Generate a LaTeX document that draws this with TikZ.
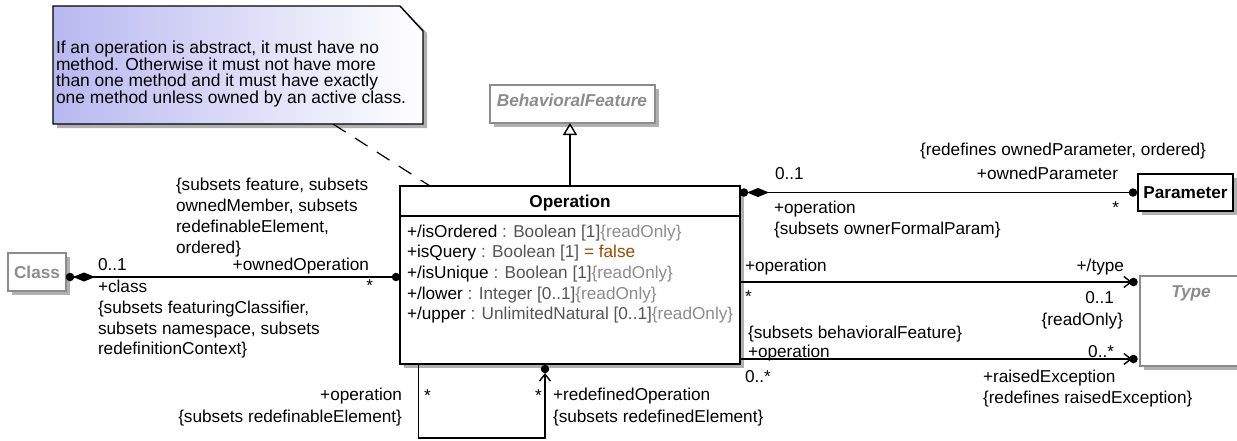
\documentclass[tikz,border=0pt]{standalone}
\usepackage{fontspec}
\setmainfont{Liberation Sans}
\usetikzlibrary{arrows.meta,calc,shadows}
\definecolor{shadowgray}{RGB}{176,176,176}
\definecolor{absgray}{RGB}{140,140,140}
\definecolor{typegray}{RGB}{85,85,85}
\definecolor{rogray}{RGB}{140,140,140}
\definecolor{valbrown}{RGB}{153,76,0}
\definecolor{noteblue}{RGB}{184,184,240}
\begin{document}
\begin{tikzpicture}[x=1pt,y=-1pt,
  every node/.style={inner sep=0pt, outer sep=0pt},
  txt/.style={font=\fontsize{17.2}{20}\selectfont},
  notetxt/.style={font=\fontsize{17.4}{17}\selectfont, anchor=base west},
  lbl/.style={txt, anchor=base west},
  lblr/.style={txt, anchor=base east},
  boldtxt/.style={font=\fontsize{17.2}{20}\selectfont\bfseries, anchor=base},
  abstxt/.style={font=\fontsize{17.2}{20}\selectfont\bfseries\itshape, text=absgray, anchor=base},
  shad/.style={drop shadow={shadow xshift=4pt, shadow yshift=-4pt, fill=shadowgray, opacity=1}},
  blackbox/.style={draw=black, line width=1.6pt, fill=white, anchor=north west, shad},
  graybox/.style={draw=absgray, line width=1.4pt, fill=white, anchor=north west, shad},
  conn/.style={line width=1.4pt},
  dot/.style={circle, fill=black, minimum size=8.5pt},
  barb/.style={-{Straight Barb[length=7pt,width=11pt]}},
]
\useasboundingbox (0,0) rectangle (1237,440);

% ---------- note ----------
\node[anchor=north west, minimum width=370pt, minimum height=118pt] (note) at (53,6) {};
\fill[shadowgray] ($(note.north west)+(4,4)$) -- ($(note.north east)+(-19,4)$) -- ($(note.north east)+(4,27)$) -- ($(note.south east)+(4,4)$) -- ($(note.south west)+(4,4)$) -- cycle;
\shade[left color=noteblue, right color=white, draw=black, line width=1.4pt] (note.north west) -- ($(note.north east)+(-23,0)$) -- ($(note.north east)+(0,25)$) -- (note.south east) -- (note.south west) -- cycle;
\node[notetxt] (n1) at (56,53.3) {If an operation is abstract, it must have no};
\node[notetxt] (n2) at (56,70) {method. Otherwise it must not have more};
\node[notetxt] (n3) at (56,86.7) {than one method and it must have exactly};
\node[notetxt] (n4) at (56,103.3) {one method unless owned by an active class.};

% ---------- classes ----------
\node[graybox, minimum width=165pt, minimum height=38pt] (bf) at (490,85) {};
\node[abstxt] (bft) at (572,106) {BehavioralFeature};

\node[blackbox, minimum width=340pt, minimum height=178pt] (op) at (400,186) {};
\draw[line width=1.4pt] ($(op.north west)+(0,30)$) -- ($(op.north east)+(0,30)$);
\node[boldtxt] (opt) at (570,207) {Operation};
\node[lbl] (a1) at (407,237) {+/isOrdered\ \textcolor{typegray}{: Boolean [1]}\textcolor{rogray}{\{readOnly\}}};
\node[lbl] (a2) at (407,257.7) {+isQuery\ \textcolor{typegray}{: Boolean [1]}\ \textcolor{valbrown}{= false}};
\node[lbl] (a3) at (407,278.4) {+/isUnique\ \textcolor{typegray}{: Boolean [1]}\textcolor{rogray}{\{readOnly\}}};
\node[lbl] (a4) at (407,299.1) {+/lower\ \textcolor{typegray}{: Integer [0..1]}\textcolor{rogray}{\{readOnly\}}};
\node[lbl] (a5) at (407,319.8) {+/upper\ \textcolor{typegray}{: UnlimitedNatural [0..1]}\textcolor{rogray}{\{readOnly\}}};

\node[graybox, minimum width=58pt, minimum height=38pt] (cls) at (8,253) {};
\node[abstxt, font=\fontsize{17.2}{20}\selectfont\bfseries] (clst) at (37,278) {Class};

\node[blackbox, minimum width=95pt, minimum height=37pt] (par) at (1138,174) {};
\node[boldtxt] (part) at (1185.5,198) {Parameter};

\node[graybox, minimum width=110pt, minimum height=90pt] (type) at (1140,276) {};
\node[abstxt] (typet) at (1191,297) {Type};

% ---------- generalization ----------
\draw[conn, -{Triangle[open, length=12pt, width=14pt]}] (op.north) -- (op.north |- bf.south);

% ---------- note anchor ----------
\draw[line width=1.2pt, dash pattern=on 15pt off 11pt] ($(note.south east)+(-90,0)$) -- ($(op.north west)+(30,0)$);

% ---------- Class -- Operation ----------
\coordinate (cA) at ($(cls.south east)+(0,-14)$);
\coordinate (cB) at (op.west |- cA);
\draw[conn] (cA) -- (cB);
\node[dot] at ($(cA)+(4,0)$) {};
\fill ($(cA)+(7,0)$) -- ++(11,-4.5) -- ++(11,4.5) -- ++(-11,4.5) -- cycle;
\node[dot] at ($(cB)+(-4,0)$) {};
\node[lbl] at (176,190.5) {\{subsets feature, subsets};
\node[lbl] at (176,211.5) {ownedMember, subsets};
\node[lbl] at (176,232.3) {redefinableElement,};
\node[lbl] at (176,253.3) {ordered\}};
\node[lbl] at (98,270.5) {0..1};
\node[lblr] at (369,270.5) {+ownedOperation};
\node[lbl] at (98,292) {+class};
\node[lblr] at (373,291.5) {*};
\node[lbl] at (98,313.5) {\{subsets featuringClassifier,};
\node[lbl] at (98,334) {subsets namespace, subsets};
\node[lbl] at (98,354.5) {redefinitionContext\}};

% ---------- Operation -- Parameter ----------
\coordinate (pB) at (par.west);
\coordinate (pA) at (op.east |- pB);
\draw[conn] (pA) -- (pB);
\node[dot] at ($(pA)+(4,0)$) {};
\fill ($(pA)+(7,0)$) -- ++(11,-4.5) -- ++(11,4.5) -- ++(-11,4.5) -- cycle;
\node[dot] at ($(pB)+(-5,0)$) {};
\node[lblr] at (1206,155.5) {\{redefines ownedParameter, ordered\}};
\node[lbl] at (775,179.5) {0..1};
\node[lblr] at (1118,179.5) {+ownedParameter};
\node[lbl] at (774,213.5) {+operation};
\node[lbl] at (774,234) {\{subsets ownerFormalParam\}};
\node[lblr] at (1119,213) {*};

% ---------- Operation -- Type (type) ----------
\coordinate (tB) at ($(type.north west)+(0,6)$);
\coordinate (tA) at (op.east |- tB);
\draw[conn, barb, shorten >=8pt] (tA) -- (tB);
\node[dot] at ($(tB)+(-6.5,0)$) {};
\node[lbl] at (745,271.5) {+operation};
\node[lblr] at (1124,271.5) {+/type};
\node[lbl] at (745,302.5) {*};
\node[lblr] at (1114,303.5) {0..1};
\node[lblr] at (1123,325.5) {\{readOnly\}};

% ---------- Operation -- Type (raisedException) ----------
\coordinate (uB) at ($(type.north west)+(0,83)$);
\coordinate (uA) at (op.east |- uB);
\draw[conn, barb, shorten >=8pt] (uA) -- (uB);
\node[dot] at ($(uB)+(-6.5,0)$) {};
\node[lbl] at (748,338.5) {\{subsets behavioralFeature\}};
\node[lbl] at (748,357.5) {+operation};
\node[lblr] at (1114,357) {0..*};
\node[lbl] at (745,382) {0..*};
\node[lbl] at (983,382) {+raisedException};
\node[lbl] at (983,403.5) {\{redefines raisedException\}};

% ---------- self association ----------
\coordinate (sA) at ($(op.south west)+(18.5,0)$);
\coordinate (sB) at ($(op.south west)+(145,0)$);
\draw[conn, barb, shorten >=9pt] (sA) -- ++(0,74) -| (sB);
\node[dot] at ($(sB)+(0,5)$) {};
\node[lblr] at (402,400.5) {+operation};
\node[lblr] at (402,422) {\{subsets redefinableElement\}};
\node[lbl] at (424,401) {*};
\node[lbl] at (535,401) {*};
\node[lbl] at (553,400.5) {+redefinedOperation};
\node[lbl] at (553,422) {\{subsets redefinedElement\}};
\end{tikzpicture}
\end{document}
